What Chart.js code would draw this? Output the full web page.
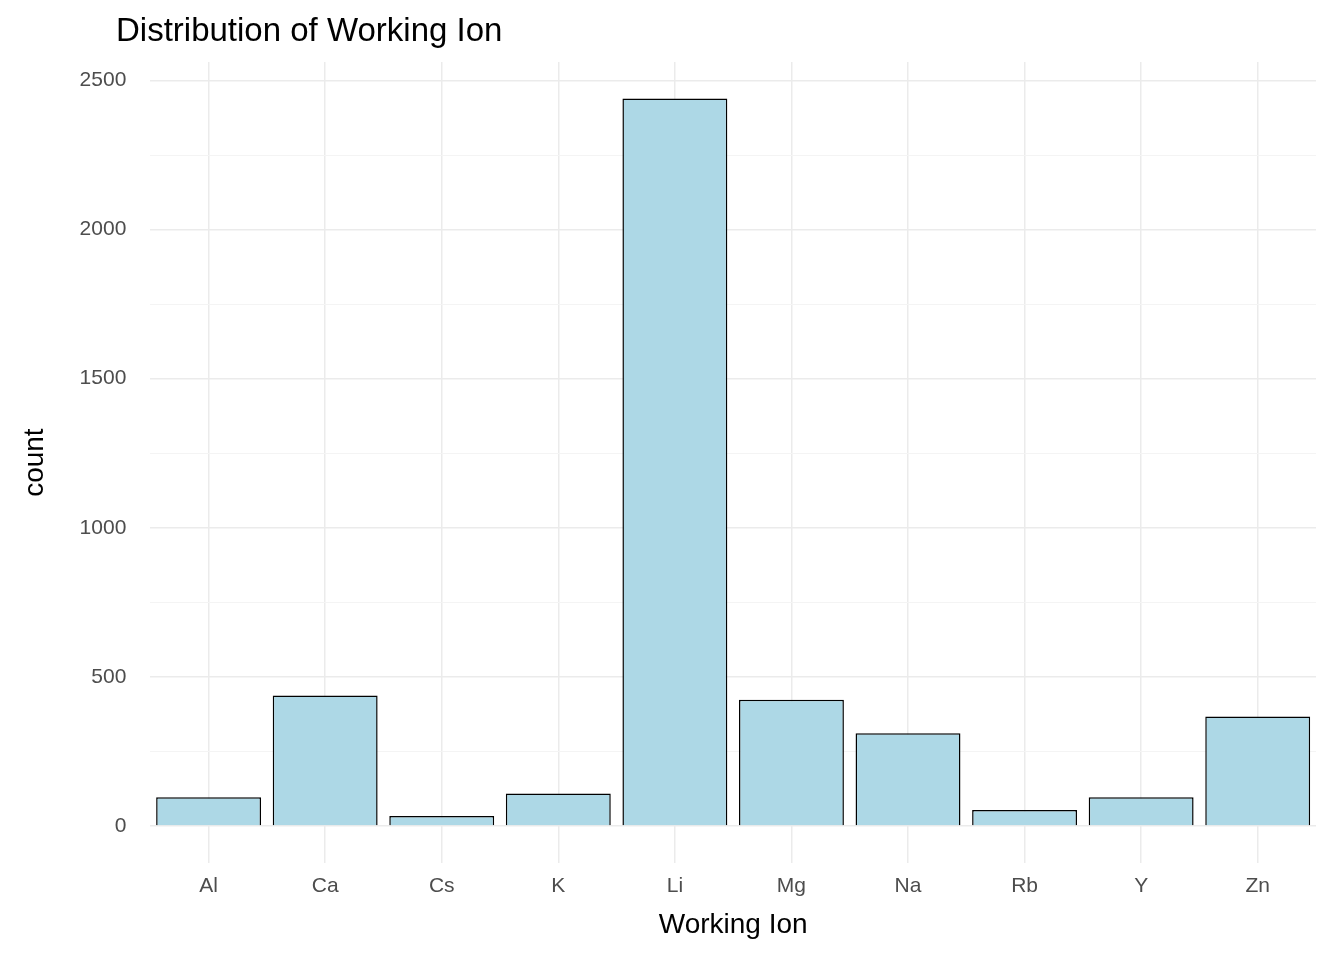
<!DOCTYPE html>
<html><head><meta charset="utf-8">
<script src="https://cdn.jsdelivr.net/npm/chart.js@4"></script>
<style>body{margin:0;background:#fff}#wrap{width:1344px;height:960px}</style>
</head><body><div id="wrap"><canvas id="c"></canvas></div>
<script>
const ions = ['Al','Ca','Cs','K','Li','Mg','Na','Rb','Y','Zn'];
const counts = [96, 437, 33, 109, 2440, 423, 311, 53, 96, 367];
const yTicks = [0, 250, 500, 750, 1000, 1250, 1500, 1750, 2000, 2250, 2500];
const FONT = 'Arial, Liberation Sans';

// title drawn at a fixed left offset like the source plot
const titlePlugin = {
    id: 'leftTitle',
    afterDraw(chart) {
        const c = chart.ctx;
        c.save();
        c.font = '33px ' + FONT;
        c.fillStyle = '#000';
        c.textBaseline = 'alphabetic';
        c.fillText('Distribution of Working Ion', 116, 41);
        c.restore();
    }
};

new Chart(document.getElementById('c').getContext('2d'), {
    type: 'bar',
    data: {
        labels: ions,
        datasets: [{
            data: counts,
            backgroundColor: '#ADD8E6',
            borderColor: '#000',
            borderWidth: 1.5,
            categoryPercentage: 1,
            barPercentage: 0.9
        }]
    },
    options: {
        responsive: true,
        maintainAspectRatio: false,
        animation: false,
        layout: { padding: { left: 14, right: 28, top: 62, bottom: 14 } },
        plugins: { legend: { display: false }, tooltip: { enabled: false } },
        scales: {
            x: {
                grid: { offset: false, color: '#ebebeb', lineWidth: 1.5, drawTicks: false },
                border: { display: false },
                ticks: { color: '#4d4d4d', font: { family: FONT, size: 21 }, padding: 10 },
                title: { display: true, text: 'Working Ion', color: '#000', font: { family: FONT, size: 28 }, padding: { top: 0 } }
            },
            y: {
                min: -125, max: 2562,
                afterBuildTicks: s => { s.ticks = yTicks.map(v => ({ value: v })); },
                grid: {
                    drawTicks: false,
                    color: ctx => ctx.tick && ctx.tick.value % 500 === 0 ? '#ebebeb' : '#f4f4f4',
                    lineWidth: ctx => ctx.tick && ctx.tick.value % 500 === 0 ? 1.5 : 1
                },
                border: { display: false },
                ticks: {
                    color: '#4d4d4d', font: { family: FONT, size: 21 }, padding: 24,
                    callback: v => v % 500 === 0 ? v : ''
                },
                title: { display: true, text: 'count', color: '#000', font: { family: FONT, size: 28 }, padding: { bottom: 4 } }
            }
        }
    },
    plugins: [titlePlugin]
});
</script></body></html>
